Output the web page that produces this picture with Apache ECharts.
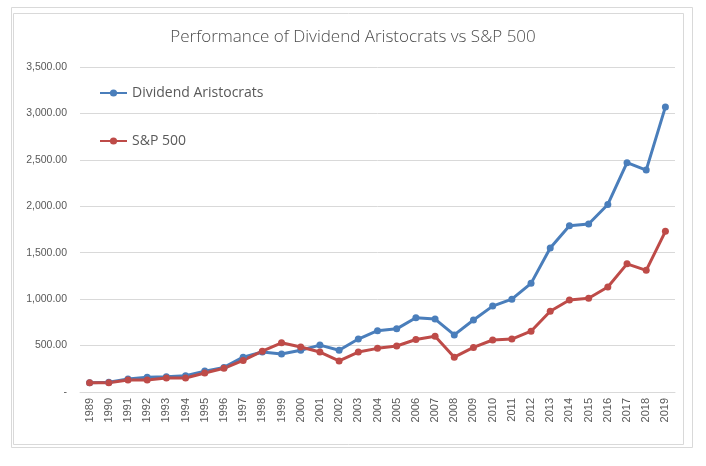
<!DOCTYPE html>
<html><head><meta charset="utf-8">
<script src="https://cdn.jsdelivr.net/npm/echarts@6/dist/echarts.min.js"></script>
<style>html,body{margin:0;padding:0;background:#fff}#c{width:706px;height:466px}</style>
</head><body><div id="c"></div>
<script>
const years = ['1989','1990','1991','1992','1993','1994','1995','1996','1997','1998','1999','2000','2001','2002','2003','2004','2005','2006','2007','2008','2009','2010','2011','2012','2013','2014','2015','2016','2017','2018','2019'];
const dividendAristocrats = [100,105,140,160,165,175,225,265,375,430,410,450,505,450,570,660,680,800,785,615,775,925,1000,1170,1550,1790,1810,2020,2470,2390,3070];
const sp500 = [100,100,130,130,150,150,205,255,340,440,530,485,430,335,430,470,495,565,600,375,480,560,570,655,870,990,1010,1130,1380,1310,1730];
const seriesNames = ['Dividend Aristocrats','S&P 500'];
const titleText = 'Performance of Dividend Aristocrats vs S&P 500';

const chart = echarts.init(document.getElementById('c'));
const fmt = v => v === 0 ? '-' : v.toLocaleString('en-US',{minimumFractionDigits:2,maximumFractionDigits:2});
chart.setOption({
  backgroundColor:'#fff',
  animation:false,
  title:{text:titleText,left:'center',top:24,textStyle:{fontFamily:'Open Sans',fontWeight:300,fontSize:17,color:'#4d4d4d'}},
  graphic:[
    {type:'rect',shape:{x:11.5,y:7.5,width:681,height:440},style:{fill:'none',stroke:'#d9d9d9',lineWidth:1}},
    {type:'rect',shape:{x:13.5,y:13.5,width:670,height:431},style:{fill:'none',stroke:'#d9d9d9',lineWidth:1}}
  ],
  legend:{orient:'vertical',left:94,top:81,itemGap:34,itemWidth:27,itemHeight:9,
    textStyle:{fontFamily:'Open Sans',fontSize:14,color:'#595959'},
    data:seriesNames},
  grid:{left:80,right:31,top:67,bottom:74},
  xAxis:{type:'category',data:years,boundaryGap:true,
    axisLine:{lineStyle:{color:'#d9d9d9'}},axisTick:{show:false},
    axisLabel:{rotate:90,color:'#595959',fontFamily:'Liberation Sans',fontSize:11,margin:6}},
  yAxis:{type:'value',min:0,max:3500,interval:500,
    axisLine:{show:false},axisTick:{show:false},
    splitLine:{lineStyle:{color:'#d9d9d9'}},
    axisLabel:{formatter:fmt,color:'#595959',fontFamily:'Liberation Sans',fontSize:10.5,margin:13}},
  series:[
    {name:seriesNames[0],type:'line',data:dividendAristocrats,symbol:'circle',symbolSize:7,
     lineStyle:{width:3,color:'#4a7ebb'},itemStyle:{color:'#4a7ebb'}},
    {name:seriesNames[1],type:'line',data:sp500,symbol:'circle',symbolSize:7,
     lineStyle:{width:3,color:'#be4b48'},itemStyle:{color:'#be4b48'}}
  ]
});
</script></body></html>
